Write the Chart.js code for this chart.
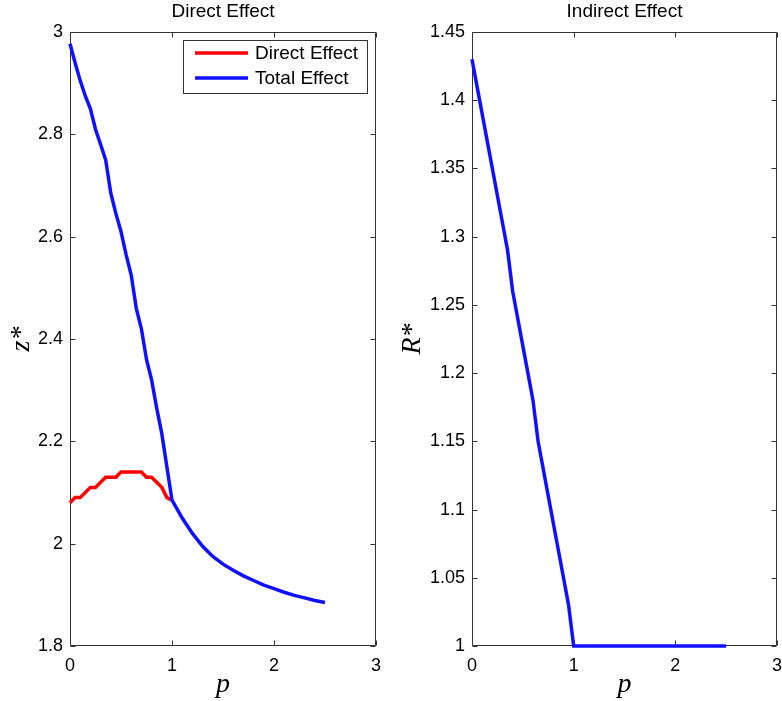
<!DOCTYPE html>
<html>
<head>
<meta charset="utf-8">
<script src="https://cdn.jsdelivr.net/npm/chart.js@4/dist/chart.umd.min.js"></script>
<style>
  body { margin: 0; background: #fff; }
  #wrap { position: relative; width: 782px; height: 701px; }
  canvas { position: absolute; top: 0; }
  #directChart { left: 0; }
  #indirectChart { left: 391px; }
</style>
</head>
<body>
<div id="wrap">
  <canvas id="directChart" width="391" height="701"></canvas>
  <canvas id="indirectChart" width="391" height="701"></canvas>
</div>
<script>
// p values (x axis)
const pLow = [0, 0.05, 0.1, 0.15, 0.2, 0.25, 0.3, 0.35, 0.4, 0.45, 0.5,
              0.55, 0.6, 0.65, 0.7, 0.75, 0.8, 0.85, 0.9, 0.95, 1.0];
const pHigh = [1.1, 1.2, 1.3, 1.4, 1.5, 1.6, 1.7, 1.8, 1.9, 2.0, 2.1, 2.2, 2.3, 2.4, 2.5];

// left panel: z*
const directEffect = [2.08, 2.09, 2.09, 2.10, 2.11, 2.11, 2.12, 2.13, 2.13, 2.13, 2.14,
                      2.14, 2.14, 2.14, 2.14, 2.13, 2.13, 2.12, 2.11, 2.09, 2.085];
const totalEffectLow = [2.977, 2.94, 2.905, 2.875, 2.85, 2.81, 2.78, 2.75, 2.685, 2.645, 2.61,
                        2.565, 2.525, 2.46, 2.42, 2.36, 2.32, 2.265, 2.215, 2.15, 2.085];
const totalEffectHigh = [2.05, 2.02, 1.995, 1.975, 1.96, 1.948, 1.937, 1.928, 1.919,
                         1.912, 1.905, 1.899, 1.894, 1.889, 1.885];

// right panel: R*
const indirectLow = [1.43, 1.41, 1.39, 1.37, 1.35, 1.33, 1.31, 1.29, 1.26, 1.24, 1.22,
                     1.20, 1.18, 1.15, 1.13, 1.11, 1.09, 1.07, 1.05, 1.03, 1.0];
const indirectHigh = [1.0, 1.0, 1.0, 1.0, 1.0, 1.0, 1.0, 1.0, 1.0, 1.0, 1.0, 1.0, 1.0, 1.0, 1.0];

const xTicks = [0, 1, 2, 3];
const zTicks = [1.8, 2, 2.2, 2.4, 2.6, 2.8, 3];
const rTicks = [1, 1.05, 1.1, 1.15, 1.2, 1.25, 1.3, 1.35, 1.4, 1.45];

const RED = "#ff0000";
const BLUE = "#1010ff";
const AXIS = "#333333";

function toPoints(xs, ys) {
    return xs.map((x, i) => ({ x: x, y: ys[i] }));
}

Chart.defaults.font.family = "'Liberation Sans', Arial, sans-serif";
Chart.defaults.font.size = 18;
Chart.defaults.color = "#000";

// matlab style box with ticks pointing inwards (drawn under the lines)
const boxTicks = {
    id: "boxTicks",
    beforeDatasetsDraw(chart) {
        const { ctx, chartArea: a, scales: { x, y } } = chart;
        const L = Math.round(a.left) + 0.5, R = Math.round(a.right) - 0.5;
        const T = Math.round(a.top) + 0.5, B = Math.round(a.bottom) - 0.5;
        ctx.save();
        ctx.strokeStyle = AXIS;
        ctx.lineWidth = 1;
        ctx.beginPath();
        ctx.rect(L, T, R - L, B - T);
        x.ticks.forEach(t => {
            const px = Math.round(x.getPixelForValue(t.value)) + 0.5;
            ctx.moveTo(px, B); ctx.lineTo(px, B - 5);
            ctx.moveTo(px, T); ctx.lineTo(px, T + 5);
        });
        y.ticks.forEach(t => {
            const py = Math.round(y.getPixelForValue(t.value)) + 0.5;
            ctx.moveTo(L, py); ctx.lineTo(L + 5, py);
            ctx.moveTo(R, py); ctx.lineTo(R - 5, py);
        });
        ctx.stroke();
        ctx.restore();
    }
};

// legend box inside the plot, top right
const boxLegend = {
    id: "boxLegend",
    afterDraw(chart, args, opts) {
        if (!opts.show) return;
        const { ctx, chartArea: a } = chart;
        const sets = chart.data.datasets;
        ctx.save();
        ctx.font = "19px 'Liberation Sans', Arial, sans-serif";
        let tw = 0;
        sets.forEach(d => { tw = Math.max(tw, ctx.measureText(d.label).width); });
        const w = Math.round(12 + 53 + 7 + tw + 9), h = 53;
        const right = Math.round(a.right) - 9, top = Math.round(a.top) + 8;
        const left = right - w;
        ctx.fillStyle = "#fff";
        ctx.fillRect(left, top, w, h);
        ctx.strokeStyle = AXIS;
        ctx.lineWidth = 1;
        ctx.strokeRect(left + 0.5, top + 0.5, w, h);
        sets.forEach((d, i) => {
            const yy = top + 13 + i * 25;
            ctx.strokeStyle = d.borderColor;
            ctx.lineWidth = 3.5;
            ctx.beginPath();
            ctx.moveTo(left + 12, yy);
            ctx.lineTo(left + 65, yy);
            ctx.stroke();
            ctx.fillStyle = "#000";
            ctx.textBaseline = "middle";
            ctx.fillText(d.label, left + 72, yy + 1);
        });
        ctx.restore();
    }
};

function fmt(v) {
    return String(Number(v.toFixed(2)));
}

function makeOptions(title, yTitle, yMin, yMax, yStep, yWidth, padRight, legend) {
    return {
        responsive: false,
        animation: false,
        layout: { padding: { left: 0, right: padRight, top: 0, bottom: 0 } },
        plugins: {
            legend: { display: false },
            tooltip: { enabled: false },
            title: {
                display: true,
                fullSize: false,
                text: title,
                font: { size: 19, weight: "normal" },
                color: "#000",
                padding: { top: 0, bottom: 9.2 }
            },
            boxLegend: { show: legend }
        },
        scales: {
            x: {
                type: "linear",
                min: 0, max: 3,
                afterBuildTicks: s => { s.ticks = xTicks.map(v => ({ value: v })); },
                ticks: { padding: 9, callback: v => fmt(v), maxRotation: 0 },
                grid: { display: false, drawTicks: false },
                border: { display: false },
                title: {
                    display: true,
                    text: "p",
                    font: { family: "'Liberation Serif', 'Times New Roman', serif", style: "italic", size: 28 },
                    padding: { top: 0, bottom: 0 }
                },
                afterFit: s => { s.height = 55; s.paddingRight = 0; s.paddingLeft = 0; }
            },
            y: {
                type: "linear",
                min: yMin, max: yMax,
                afterBuildTicks: s => { s.ticks = yStep.map(v => ({ value: v })); },
                ticks: { padding: 7, callback: v => fmt(v) },
                grid: { display: false, drawTicks: false },
                border: { display: false },
                title: {
                    display: true,
                    text: yTitle,
                    font: { family: "'Liberation Serif', 'Times New Roman', serif", style: "italic", size: 28 },
                    padding: { top: 5, bottom: 0 }
                },
                afterFit: s => { s.width = yWidth; }
            }
        }
    };
}

const lineStyle = { borderWidth: 3.5, pointRadius: 0, tension: 0, fill: false, clip: 4 };

new Chart(document.getElementById("directChart"), {
    type: "line",
    data: {
        datasets: [
            Object.assign({
                label: "Direct Effect",
                data: toPoints(pLow, directEffect),
                borderColor: RED,
                order: 1
            }, lineStyle),
            Object.assign({
                label: "Total Effect",
                data: toPoints(pLow.concat(pHigh), totalEffectLow.concat(totalEffectHigh)),
                borderColor: BLUE,
                order: 0
            }, lineStyle)
        ]
    },
    options: makeOptions("Direct Effect", "z*", 1.8, 3, zTicks, 70, 15, true),
    plugins: [boxTicks, boxLegend]
});

new Chart(document.getElementById("indirectChart"), {
    type: "line",
    data: {
        datasets: [
            Object.assign({
                label: "Indirect Effect",
                data: toPoints(pLow.concat(pHigh), indirectLow.concat(indirectHigh)),
                borderColor: BLUE
            }, lineStyle)
        ]
    },
    options: makeOptions("Indirect Effect", "R*", 1, 1.45, rTicks, 81, 5, false),
    plugins: [boxTicks, boxLegend]
});
</script>
</body>
</html>
